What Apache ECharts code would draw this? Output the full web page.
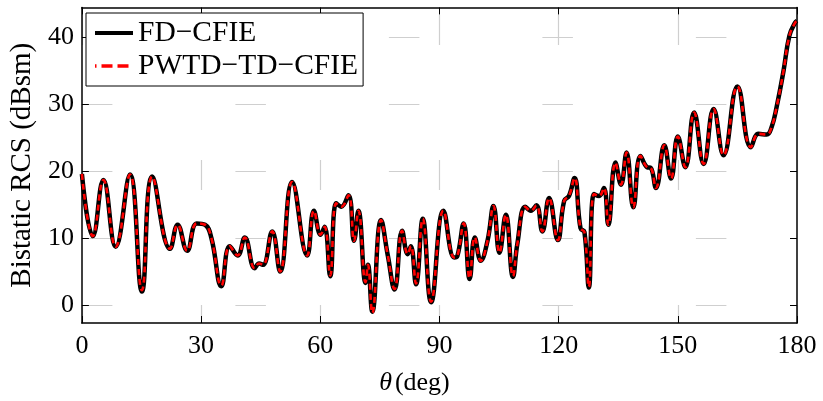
<!DOCTYPE html>
<html>
<head>
<meta charset="utf-8">
<script src="https://cdn.jsdelivr.net/npm/echarts@6/dist/echarts.min.js"></script>
<style>
  html, body { margin: 0; padding: 0; background: #ffffff; }
  #chart { width: 823px; height: 401px; }
</style>
</head>
<body>
<div id="chart"></div>
<script>
// Observation angle theta (deg) at the lobe maxima / minima of the pattern
const angles = [
  0, 2.76, 5.4, 8.5, 12.1, 15.1, 17.7, 22.2, 24.1, 26.5, 28.9, 31, 32.6,
  35.1, 37.2, 39.2, 41, 43.5, 44.6, 45.6, 47.9, 49.9, 52.9, 56.7, 58.4, 60.1, 61.1, 62.5, 64, 65.3, 67.1, 68.5, 69.6,
  71.4, 72, 73.1, 75.3, 77, 78.7, 80.6, 82, 82.8, 84.1, 85.8, 87.9, 91, 93.7, 94.5, 96.1, 97.6, 98.9, 100.4, 102.1,
  103.6, 105.1, 106.7, 108.5, 109.6, 111.6, 113, 114.4, 115.9, 117.6, 119.8, 121.4, 122.6, 124, 125.5, 126.5, 127.6, 128.9, 130.2, 131.4,
  132.5, 134.3, 135.7, 137.1, 138.8, 140.6, 142.3, 143.2, 144.5, 146.6, 148.3, 150, 151.9, 154.1, 156.5, 159, 161.5, 165, 168.4, 170.3,
  172.4, 173.6, 174.9, 176.6, 178.1, 179.5, 180
];

// Bistatic RCS (dBsm), frequency-domain CFIE solution
const fdCfie = [
  19.6, 10.3, 18.7, 8.7, 19.5, 2.0, 19.2, 8.4, 12.0, 8.1, 12.2, 12.0, 10.0,
  2.8, 8.8, 7.4, 10.1, 5.5, 6.2, 6.0, 11.0, 5.0, 18.4, 7.4, 14.1, 10.5, 11.7, 4.3, 15.2, 14.7, 16.4, 9.6, 14.1,
  3.3, 6.0, -1.0, 12.7, 7.4, 2.3, 11.1, 7.6, 8.8, 3.1, 12.9, 0.4, 14.1, 7.1, 7.3, 12.2, 3.9, 10.1, 6.6, 9.6,
  14.8, 7.8, 13.5, 4.2, 9.1, 14.7, 14.1, 14.9, 11.0, 16.0, 9.7, 15.6, 16.3, 19.0, 11.5, 10.9, 2.6, 16.6, 16.3, 17.5,
  12.0, 21.3, 18.0, 22.8, 14.6, 22.3, 20.6, 20.5, 17.5, 23.9, 18.9, 25.2, 20.6, 28.8, 21.1, 29.3, 22.4, 32.7, 23.6, 25.6,
  25.5, 26.6, 29.7, 35.0, 40.3, 42.2, 42.5
];

// Bistatic RCS (dBsm), PWTD-accelerated TD-CFIE solution
const pwtdTdCfie = [
  19.6, 10.3, 18.7, 8.7, 19.5, 2.2, 19.2, 8.4, 12.0, 8.1, 12.2, 12.0, 10.0,
  2.9, 8.8, 7.4, 10.1, 5.5, 6.2, 6.0, 11.0, 5.0, 18.4, 7.4, 14.1, 10.5, 11.7, 4.4, 15.2, 14.7, 16.4, 9.6, 14.1,
  3.4, 6.0, -1.2, 12.7, 7.4, 2.4, 11.1, 7.6, 8.8, 3.2, 12.9, 0.5, 14.1, 7.1, 7.3, 12.2, 4.0, 10.1, 6.6, 9.6,
  14.8, 7.8, 13.5, 4.3, 9.1, 14.7, 14.1, 14.9, 11.0, 16.0, 9.7, 15.6, 16.3, 19.0, 11.5, 10.9, 2.7, 16.6, 16.3, 17.5,
  12.0, 21.3, 18.0, 22.8, 14.6, 22.3, 20.6, 20.5, 17.5, 23.9, 18.9, 25.2, 20.6, 28.8, 21.1, 29.3, 22.4, 32.7, 23.6, 25.6,
  25.5, 26.6, 29.7, 35.0, 40.3, 42.2, 42.5
];

const yTicks = [0, 10, 20, 30, 40];
const seriesNames = ['FD\u2212CFIE', 'PWTD\u2212TD\u2212CFIE'];

const FONT = 'Liberation Serif';
const GRID_GRAY = '#cfcfcf';

const chart = echarts.init(document.getElementById('chart'), null, { renderer: 'canvas' });

const zip = (xs, ys) => xs.map((x, i) => [x, ys[i]]);

const boxAxisX = (pos, showLabel) => ({
  type: 'value', position: pos, min: 0, max: 180, interval: 30,
  axisLine: { show: true, onZero: false, lineStyle: { color: '#000', width: 1.5 } },
  axisTick: { show: true, inside: true, length: 7, lineStyle: { color: '#000', width: 1 } },
  axisLabel: { show: showLabel, color: '#000', fontFamily: FONT, fontSize: 26, margin: 10 },
  splitLine: { show: false }
});

const boxAxisY = (pos, showLabel) => ({
  type: 'value', position: pos, min: -2.7, max: 44.5,
  axisLine: { show: true, onZero: false, lineStyle: { color: '#000', width: 1.5 } },
  axisTick: { show: true, inside: true, length: 7, customValues: yTicks, lineStyle: { color: '#000', width: 1 } },
  axisLabel: { show: showLabel, customValues: yTicks, color: '#000', fontFamily: FONT, fontSize: 26, margin: 8 },
  splitLine: { show: false }
});

const xMain = boxAxisX('bottom', true);
xMain.name = '{th|\u03b8}(deg)';
xMain.nameLocation = 'middle';
xMain.nameGap = 47;
xMain.nameTextStyle = {
  color: '#000', fontFamily: FONT, fontSize: 26, padding: [0, 50, 0, 0],
  rich: { th: { fontFamily: FONT, fontStyle: 'italic', fontSize: 26, color: '#000', padding: [0, 3, 0, 0] } }
};
xMain.splitLine = {
  show: true,
  lineStyle: { color: GRID_GRAY, width: 1.2, type: [30, 115], dashOffset: 137.5 }
};

const yMain = boxAxisY('left', true);
yMain.name = 'Bistatic RCS (dBsm)';
yMain.nameLocation = 'middle';
yMain.nameGap = 42;
yMain.nameTextStyle = { color: '#000', fontFamily: FONT, fontSize: 29 };
yMain.splitLine = {
  show: true,
  lineStyle: { color: GRID_GRAY, width: 1.2, type: [30.5, 123], dashOffset: 0 }
};

const option = {
  backgroundColor: '#ffffff',
  animation: false,
  grid: { left: 80, right: 26, top: 7.5, bottom: 66 },
  legend: {
    show: true,
    orient: 'vertical',
    left: 86, top: 13,
    padding: [5, 5, 5, 7],
    itemGap: 3,
    itemWidth: 38, itemHeight: 14,
    borderColor: '#000', borderWidth: 1,
    backgroundColor: '#fff',
    textStyle: { color: '#000', fontFamily: FONT, fontSize: 29.5 },
    data: [
      { name: seriesNames[0], itemStyle: { opacity: 0 }, lineStyle: { color: '#000', width: 4 } },
      { name: seriesNames[1], itemStyle: { opacity: 0 }, lineStyle: { color: '#ff0000', width: 3.5, type: [11, 5] } }
    ]
  },
  xAxis: [xMain, boxAxisX('top', false)],
  yAxis: [yMain, boxAxisY('right', false)],
  series: [
    {
      name: seriesNames[0], type: 'line', xAxisIndex: 0, yAxisIndex: 0,
      data: zip(angles, fdCfie), showSymbol: false, symbol: 'none',
      smooth: 0.45,
      lineStyle: { color: '#000', width: 4.5 },
      itemStyle: { color: '#000' }, z: 3
    },
    {
      name: seriesNames[1], type: 'line', xAxisIndex: 0, yAxisIndex: 0,
      data: zip(angles, pwtdTdCfie), showSymbol: false, symbol: 'none',
      smooth: 0.45,
      lineStyle: { color: '#ff0000', width: 2.6, type: [6, 4] },
      itemStyle: { color: '#ff0000' }, z: 4
    }
  ]
};

chart.setOption(option);
</script>
</body>
</html>
